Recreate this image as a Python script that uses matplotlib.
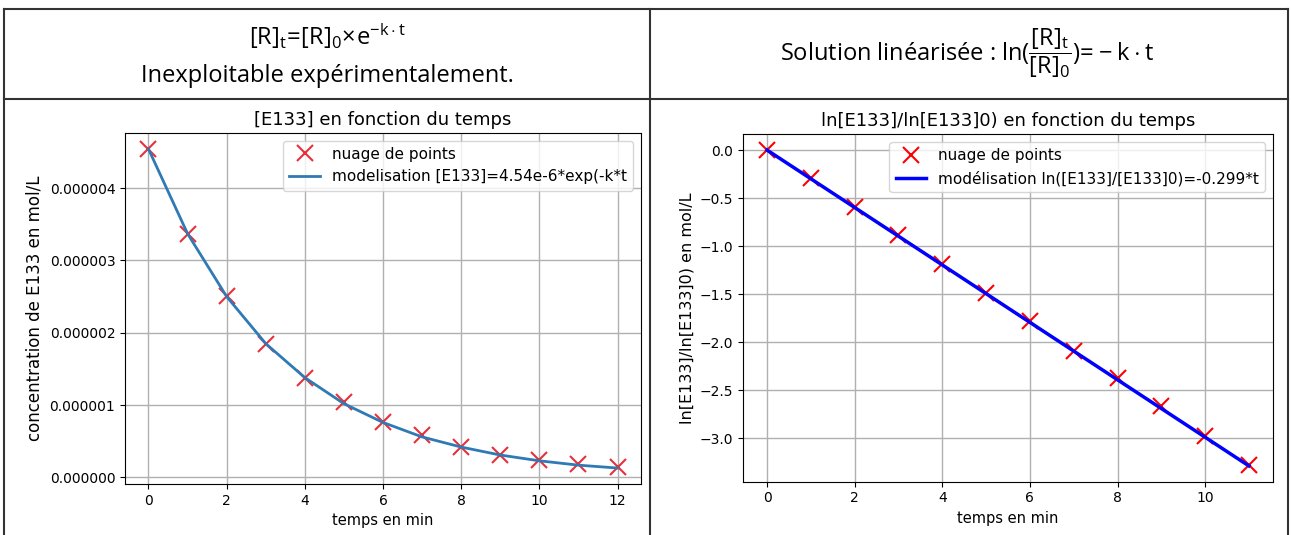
import matplotlib
matplotlib.use("Agg")
import matplotlib.pyplot as plt
from matplotlib.lines import Line2D
from matplotlib.ticker import FormatStrFormatter

# data
t_conc = [0, 1, 2, 3, 4, 5, 6, 7, 8, 9, 10, 11, 12]
conc = [4.54e-6, 3.37e-6, 2.51e-6, 1.84e-6, 1.375e-6, 1.036e-6, 0.76e-6,
        0.59e-6, 0.425e-6, 0.31e-6, 0.24e-6, 0.185e-6, 0.139e-6]
conc_model = [4.54e-6, 3.37e-6, 2.50e-6, 1.85e-6, 1.38e-6, 1.02e-6, 0.76e-6,
              0.56e-6, 0.42e-6, 0.31e-6, 0.23e-6, 0.17e-6, 0.13e-6]

t_ln = [0, 1, 2, 3, 4, 5, 6, 7, 8, 9, 10, 11]
ln_ratio = [0.0, -0.295, -0.59, -0.887, -1.19, -1.49, -1.785, -2.088,
            -2.376, -2.67, -2.975, -3.28]
ln_model = [0.0, -0.299, -0.598, -0.897, -1.196, -1.495, -1.794, -2.093,
            -2.392, -2.691, -2.99, -3.289]

plt.rcParams['mathtext.fontset'] = 'custom'
plt.rcParams['mathtext.rm'] = 'Open Sans'
plt.rcParams['mathtext.it'] = 'Open Sans'

fig = plt.figure(figsize=(12.91, 5.35), dpi=100)

# table frame
lc = '#333333'
for x in [4 / 1291, 650 / 1291, 1288 / 1291]:
    fig.add_artist(Line2D([x, x], [0, 1 - 9 / 535], color=lc, lw=1.5))
for y in [1 - 9 / 535, 1 - 99 / 535]:
    fig.add_artist(Line2D([4 / 1291, 1288 / 1291], [y, y], color=lc, lw=1.5))

# header cells
fig.text(327 / 1291, 1 - 36 / 535, r'$\mathrm{[R]_t\!=\![R]_0\!\times\! e^{-k\cdot t}}$',
         ha='center', va='center', fontsize=17, family='Open Sans')
fig.text(327 / 1291, 1 - 76 / 535, 'Inexploitable expérimentalement.',
         ha='center', va='center', fontsize=17, family='Open Sans')
fig.text(967 / 1291, 1 - 53 / 535,
         r'Solution linéarisée : $\mathrm{ln(\dfrac{[R]_t}{[R]_0})\!=\!-k\cdot t}$',
         ha='center', va='center', fontsize=17, family='Open Sans')

# left chart
ax1 = fig.add_axes([125 / 1291, 1 - 484 / 535, 516 / 1291, 351 / 535])
ax1.plot(t_conc, conc, 'x', color='#e8303a', markersize=12, mew=1.5,
         label='nuage de points')
ax1.plot(t_conc, conc_model, color='#2f7ab5', lw=2,
         label='modelisation [E133]=4.54e-6*exp(-k*t')
ax1.yaxis.set_major_formatter(FormatStrFormatter('%.6f'))
ax1.set_xticks([0, 2, 4, 6, 8, 10, 12])
ax1.grid(True, color='#b0b0b0', lw=1)
ax1.set_title('[E133] en fonction du temps', fontsize=13)
ax1.set_xlabel('temps en min', fontsize=10.5)
ax1.set_ylabel('concentration de E133 en mol/L', fontsize=12)
ax1.tick_params(labelsize=10)
ax1.legend(loc='upper right', fontsize=11)

# right chart
ax2 = fig.add_axes([743 / 1291, 1 - 481.7 / 535, 530 / 1291, 347.4 / 535])
ax2.plot(t_ln, ln_ratio, 'x', color='red', markersize=12, mew=1.5,
         label='nuage de points')
ax2.plot(t_ln, ln_model, color='blue', lw=2.5,
         label='modélisation ln([E133]/[E133]0)=-0.299*t')
ax2.grid(True, color='#b0b0b0', lw=1)
ax2.set_title('ln[E133]/ln[E133]0) en fonction du temps', fontsize=13)
ax2.set_xlabel('temps en min', fontsize=10.5)
ax2.set_ylabel('ln[E133]/ln[E133]0) en mol/L', fontsize=11.5)
ax2.tick_params(labelsize=10)
ax2.legend(loc='upper right', fontsize=11)

fig.savefig('out.png', dpi=100)
